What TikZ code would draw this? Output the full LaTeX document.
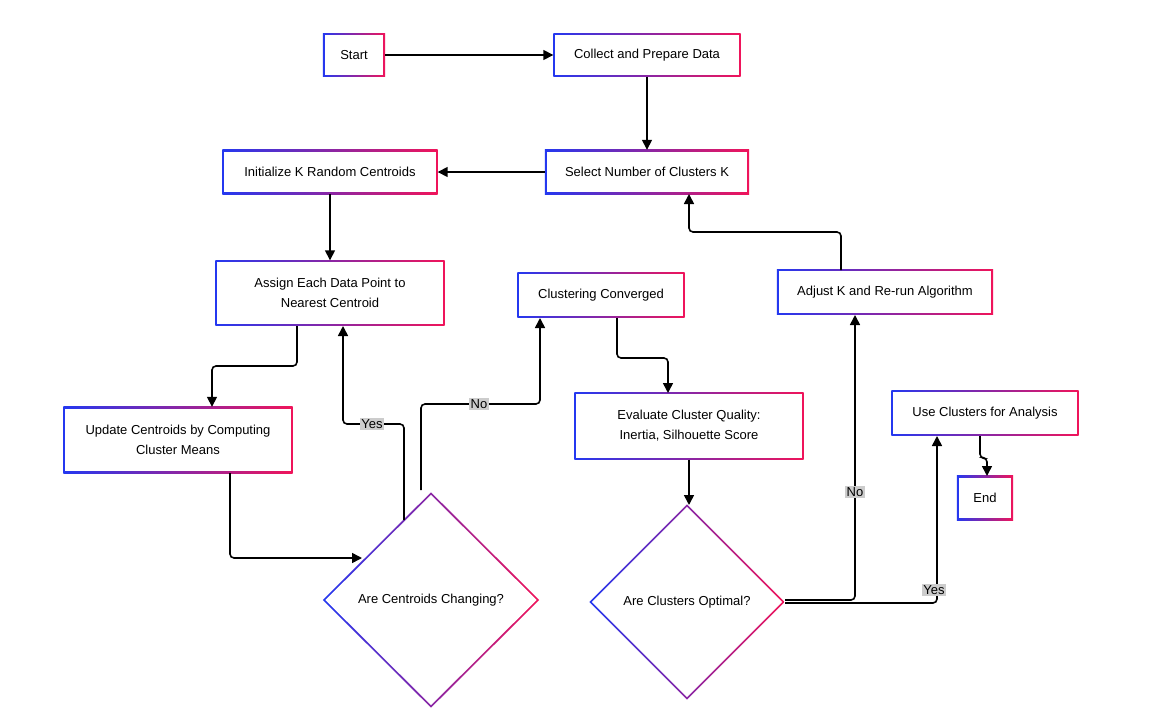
\documentclass[tikz,border=0pt]{standalone}
\usepackage{fontspec}
\setmainfont{Liberation Sans}
\usetikzlibrary{shapes.geometric,arrows.meta,backgrounds}
\definecolor{gb}{HTML}{2438F0}
\definecolor{gr}{HTML}{F0145A}
\definecolor{lbl}{HTML}{CCCCCC}
\tikzset{
  box/.style={rectangle,inner sep=0pt,align=center,font=\fontsize{13}{20}\selectfont},
  dia/.style={diamond,inner sep=0pt,align=center,font=\fontsize{13}{20}\selectfont},
  conn/.style={draw=black,line width=1.6pt,rounded corners=4pt,-{Triangle[length=10pt,width=10pt]}},
  lab/.style={fill=lbl,inner sep=1.5pt,font=\fontsize{13}{15}\selectfont}
}
\newcommand{\gbox}[1]{%
  \begin{scope}[on background layer]
  \shade[left color=gb,right color=gr] (#1.south west) rectangle (#1.north east);
  \fill[white] ([shift={(1.8,-1.8)}]#1.south west) rectangle ([shift={(-1.8,1.8)}]#1.north east);
  \end{scope}}
\newcommand{\gdia}[1]{%
  \begin{scope}[on background layer]
  \shade[left color=gb,right color=gr] (#1.north)--(#1.east)--(#1.south)--(#1.west)--cycle;
  \fill[white] ([yshift=-2.6]#1.north)--([xshift=-2.6]#1.east)--([yshift=2.6]#1.south)--([xshift=2.6]#1.west)--cycle;
  \end{scope}}
\begin{document}
\begin{tikzpicture}[x=1pt,y=-1pt]
\begin{scope}[on background layer]
\fill[white] (0,0) rectangle (1163,728);
\end{scope}
\useasboundingbox (0,0) rectangle (1163,728);
\node[box,minimum width=62,minimum height=43] (start) at (354,55) {Start};
\node[box,minimum width=187,minimum height=43] (collect) at (647,55) {Collect and Prepare Data};
\node[box,minimum width=204,minimum height=44] (select) at (647,172) {Select Number of Clusters K};
\node[box,minimum width=215,minimum height=44] (init) at (330,172) {Initialize K Random Centroids};
\node[box,minimum width=229,minimum height=65] (assign) at (330,293) {Assign Each Data Point to\\Nearest Centroid};
\node[box,minimum width=229,minimum height=66] (update) at (178,440) {Update Centroids by Computing\\Cluster Means};
\node[dia,minimum width=216,minimum height=215] (chg) at (431,600) {Are Centroids Changing?};
\node[box,minimum width=167,minimum height=45] (conv) at (601,295) {Clustering Converged};
\node[box,minimum width=229,minimum height=67] (eval) at (689,426) {Evaluate Cluster Quality:\\Inertia, Silhouette Score};
\node[dia,minimum width=195,minimum height=195] (opt) at (687,602) {Are Clusters Optimal?};
\node[box,minimum width=216,minimum height=45] (adj) at (885,292) {Adjust K and Re-run Algorithm};
\node[box,minimum width=187,minimum height=45] (use) at (985,413) {Use Clusters for Analysis};
\node[box,minimum width=56,minimum height=44] (end) at (985,498) {End};
\foreach \n in {start,collect,select,init,assign,update,conv,eval,adj,use,end}{\gbox{\n}}
\gdia{chg}\gdia{opt}
\coordinate (a1) at (297,326);
\draw[conn] (start.east) -- (collect.west);
\draw[conn] (collect.south) -- (select.north);
\draw[conn] (select.west) -- (init.east);
\draw[conn] (init.south) -- (assign.north);
\draw[conn] (a1) |- (212,366) -- (update.north -| 212,0);
\draw[conn] (230,473) |- (362,558);
\draw[conn] (404,520) |- (343,424) -- (343,326);
\node[lab] at (372,424) {Yes};
\draw[conn] (421,490) |- (540,404) -- (540,318);
\node[lab] at (479,404) {No};
\draw[conn] (617,318) |- (668,358) -- (668,393);
\draw[conn] (eval.south) -- (689,505);
\draw[conn] (785,600) -| (855,315);
\node[lab] at (855,492) {No};
\draw[conn] (785,603) -| (937,436);
\node[lab] at (934,590) {Yes};
\draw[conn] (841,270) |- (689,232) -- (689,194);
\draw[conn] (980,436) -- (980,458) -- (987,458) -- (987,476);
\end{tikzpicture}
\end{document}
